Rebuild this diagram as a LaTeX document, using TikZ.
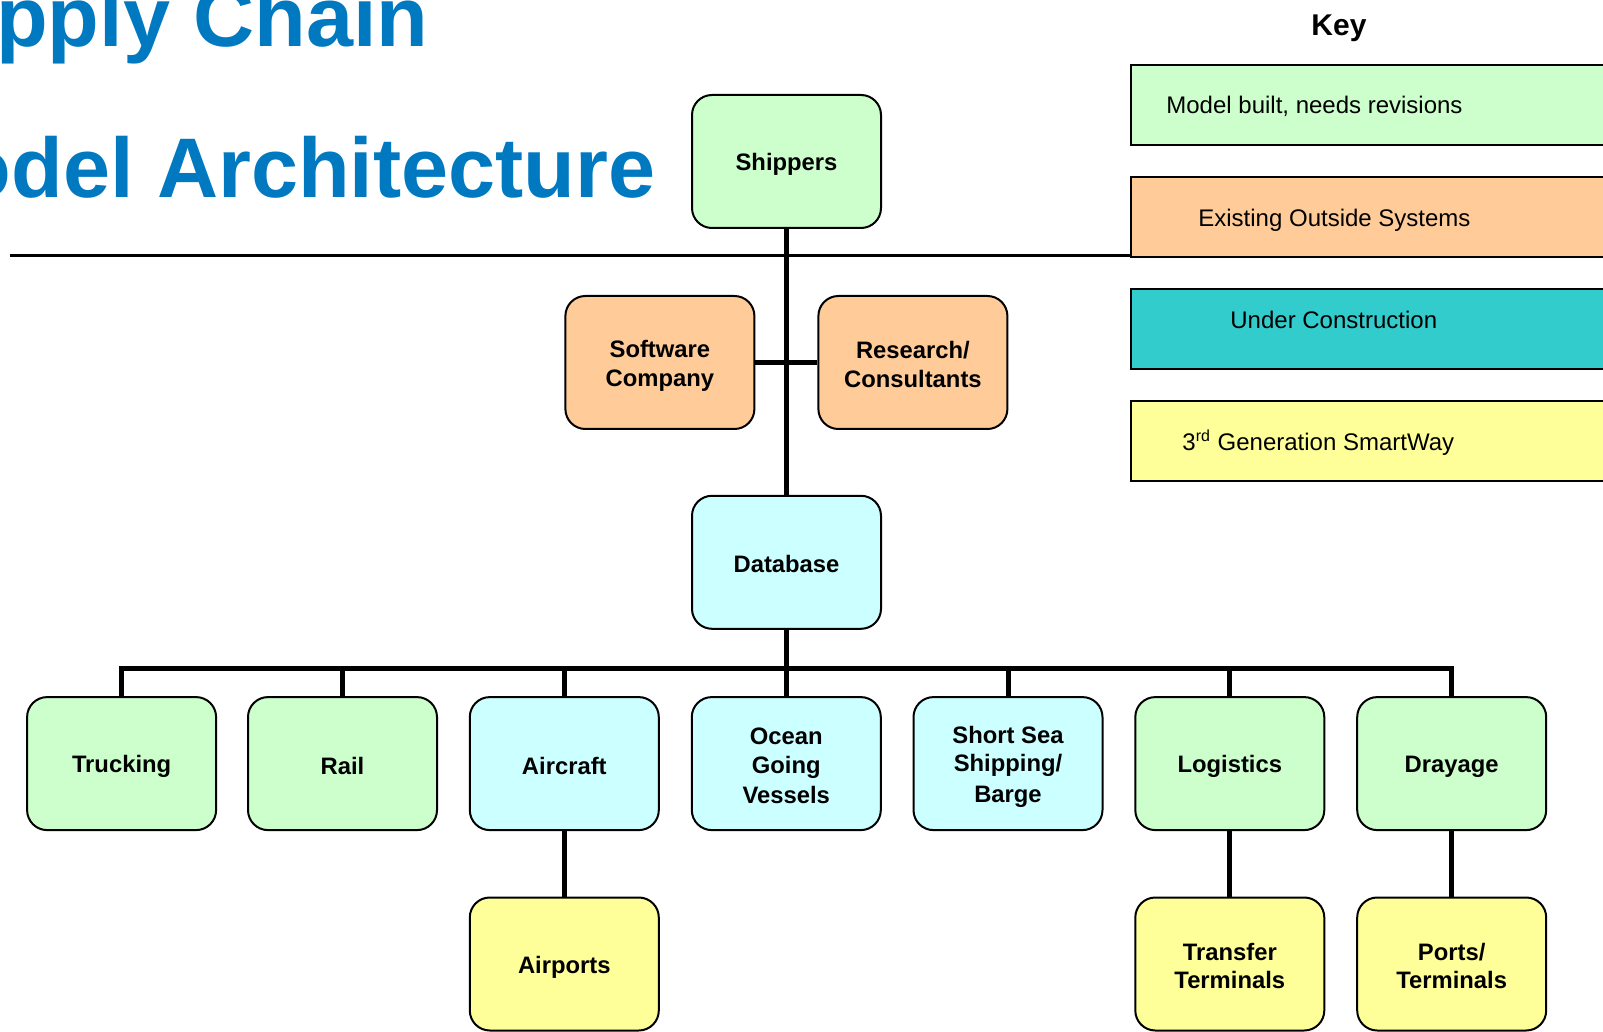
\documentclass[tikz,border=0pt]{standalone}
\usepackage{fontspec}
\setmainfont{Liberation Sans}
\definecolor{cgreen}{HTML}{CCFFCC}
\definecolor{corange}{HTML}{FFCC99}
\definecolor{ccyan}{HTML}{CCFFFF}
\definecolor{cteal}{HTML}{33CCCC}
\definecolor{cyellow}{HTML}{FFFF99}
\definecolor{titleblue}{HTML}{0079C1}
\newcommand{\ls}{\rule[-1.3pt]{0pt}{13.1pt}}
\newcommand{\ks}{\rule[-2.3pt]{0pt}{13.2pt}}
\begin{document}
\begin{tikzpicture}[x=0.5pt,y=-0.5pt,
  box/.style={draw=black, line width=1pt, rounded corners=10pt,
    minimum width=94.5pt, minimum height=66.5pt, align=center, inner sep=2pt,
    font=\fontsize{11.9}{14.3}\selectfont\bfseries},
  conn/.style={line width=2.5pt, draw=black},
  keybox/.style={draw=black, line width=0.9pt, minimum width=247.5pt,
    minimum height=40pt, anchor=north west, inner sep=0pt},
  keytext/.style={anchor=west, inner sep=0pt, font=\fontsize{12}{14}\selectfont},
  titletext/.style={inner sep=0pt, text=titleblue,
    font=\fontsize{42.3}{43}\selectfont\bfseries}]
\useasboundingbox (0,0) rectangle (1603,1032);
\clip (0,0) rectangle (1603,1032);

% title
\node[titletext, anchor=base east] (t1) at (429,47) {pply Chain};
\node[titletext, anchor=base west] (t2) at (-40.5,198) {odel Architecture};

% rule
\coordinate (r1) at (10,255.6);
\coordinate (r2) at (1547,255.6);
\draw[line width=1.2pt] (r1) -- (r2);

% key
\node[anchor=base, inner sep=0pt, font=\fontsize{15}{15}\selectfont\bfseries] (key) at (1339,36) {Key};
\node[keybox, fill=cgreen] (k1) at (1130,64) {};
\node[keybox, fill=corange] (k2) at (1130,176) {};
\node[keybox, fill=cteal] (k3) at (1130,288) {};
\node[keybox, fill=cyellow] (k4) at (1130,400) {};
\node[keytext] (kt1) at (1166,105) {\ks Model built, needs revisions};
\node[keytext] (kt2) at (1198,217.8) {\ks Existing Outside Systems};
\node[keytext] (kt3) at (1230,320) {\ks Under Construction};
\node[keytext] (kt4) at (1182,441.6) {\ks 3\textsuperscript{rd} Generation SmartWay};

% nodes
\node[box, fill=cgreen] (ship) at (786.5,161.5) {\ls Shippers};
\node[box, fill=corange] (soft) at (659.9,362.5) {\ls Software\\\ls Company};
\node[box, fill=corange] (res) at (912.9,362.5) {\ls Research/\\\ls Consultants};
\node[box, fill=ccyan] (db) at (786.5,562.3) {\ls Database};

\node[box, fill=cgreen] (truck) at (121.6,763.6) {\ls Trucking};
\node[box, fill=cgreen] (rail) at (342.5,763.6) {\ls Rail};
\node[box, fill=ccyan] (air) at (564.3,763.6) {\ls Aircraft};
\node[box, fill=ccyan] (ocean) at (786.3,763.6) {\ls Ocean\\\ls Going\\\ls Vessels};
\node[box, fill=ccyan] (sss) at (1008,763.6) {\ls Short Sea\\\ls Shipping/\\\ls Barge};
\node[box, fill=cgreen] (log) at (1229.8,763.6) {\ls Logistics};
\node[box, fill=cgreen] (dray) at (1451.7,763.6) {\ls Drayage};

\node[box, fill=cyellow] (airp) at (564.3,964) {\ls Airports};
\node[box, fill=cyellow] (trans) at (1229.8,964) {\ls Transfer\\\ls Terminals};
\node[box, fill=cyellow] (ports) at (1451.7,964) {\ls Ports/\\\ls Terminals};

% connectors
\draw[conn] (ship.south) -- (db.north);
\draw[conn] (soft.east) -- (res.west);
\coordinate (bus) at (0,668.6);
\foreach \c in {truck,rail,air,ocean,sss,log,dray}{
  \draw[conn] (db.south) -- (db.south |- bus) -| (\c.north);
}
\draw[conn] (air.south) -- (airp.north);
\draw[conn] (log.south) -- (trans.north);
\draw[conn] (dray.south) -- (ports.north);
\end{tikzpicture}
\end{document}
